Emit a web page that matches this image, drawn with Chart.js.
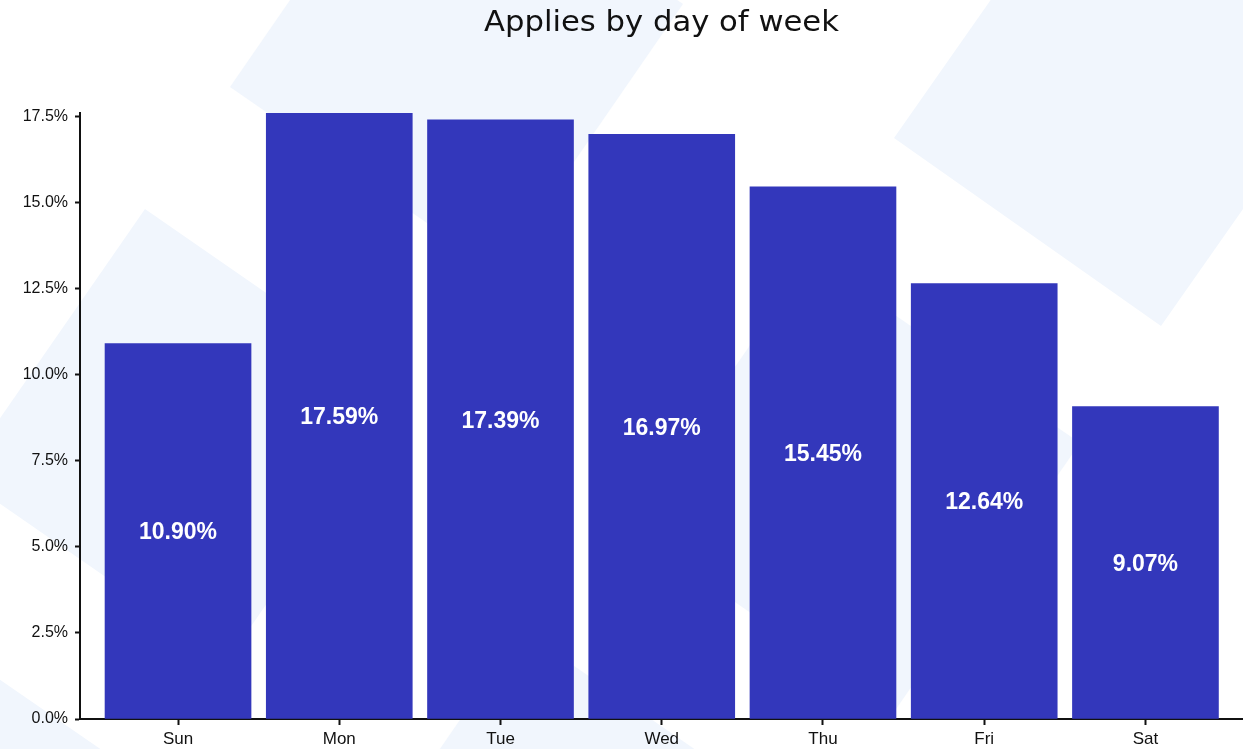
<!DOCTYPE html>
<html>
<head>
<meta charset="utf-8">
<script src="https://cdn.jsdelivr.net/npm/chart.js@4.4.0/dist/chart.umd.min.js"></script>
<style>
  html, body { margin: 0; padding: 0; background: #fff; }
  canvas { display: block; }
</style>
</head>
<body>
<canvas id="appliesChart" width="1243" height="749"></canvas>
<script>
// Share of applies per weekday (%)
const days = ['Sun', 'Mon', 'Tue', 'Wed', 'Thu', 'Fri', 'Sat'];
const shares = [10.90, 17.59, 17.39, 16.97, 15.45, 12.64, 9.07];
const yTicks = [0, 2.5, 5, 7.5, 10, 12.5, 15, 17.5];

const BAR_COLOR = '#3337bb';
const INK = '#111111';
const SHAPE_COLOR = '#f1f6fd';

// Decorative tilted squares behind the plot
const bgShapes = [
    [[230, 87], [498, 272], [683, 4], [415, -181]],
    [[894, 138], [1161, 326], [1348, 59], [1081, -129]],
    [[145, 209], [412, 394], [227, 661], [-40, 476]],
    [[811, 257], [1080, 443], [894, 712], [625, 526]],
    [[522, 630], [790, 815], [605, 1083], [337, 898]],
    [[-30, 659], [238, 844], [53, 1112], [-215, 927]]
];

const backdrop = {
    id: 'backdrop',
    beforeDraw(chart) {
        const ctx = chart.ctx;
        ctx.save();
        ctx.fillStyle = '#ffffff';
        ctx.fillRect(0, 0, chart.width, chart.height);
        ctx.fillStyle = SHAPE_COLOR;
        bgShapes.forEach(pts => {
            ctx.beginPath();
            pts.forEach(([x, y], i) => i ? ctx.lineTo(x, y) : ctx.moveTo(x, y));
            ctx.closePath();
            ctx.fill();
        });
        ctx.restore();
    }
};

// Title drawn a little stretched to get the wide look
const wideTitle = {
    id: 'wideTitle',
    afterDraw(chart) {
        const ctx = chart.ctx;
        const text = 'Applies by day of week';
        ctx.save();
        ctx.font = '29px "DejaVu Sans"';
        ctx.fillStyle = INK;
        ctx.textAlign = 'center';
        ctx.textBaseline = 'alphabetic';
        const w = ctx.measureText(text).width;
        const cx = (chart.chartArea.left + chart.chartArea.right) / 2;
        ctx.translate(cx, 31);
        ctx.scale(355 / w, 1);
        ctx.fillText(text, 0, 0);
        ctx.restore();
    }
};

// Percentage written in the middle of each bar
const barValues = {
    id: 'barValues',
    afterDatasetsDraw(chart) {
        const ctx = chart.ctx;
        const meta = chart.getDatasetMeta(0);
        ctx.save();
        ctx.font = 'bold 23px "Liberation Sans"';
        ctx.fillStyle = '#ffffff';
        ctx.textAlign = 'center';
        ctx.textBaseline = 'middle';
        meta.data.forEach((bar, i) => {
            const y = (bar.y + bar.base) / 2 + 2;
            ctx.fillText(shares[i].toFixed(2) + '%', bar.x, y);
        });
        ctx.restore();
    }
};

new Chart(document.getElementById('appliesChart'), {
    type: 'bar',
    data: {
        datasets: [{
            data: shares.map((v, i) => ({ x: i, y: v })),
            backgroundColor: BAR_COLOR,
            borderWidth: 0,
            barThickness: 146
        }]
    },
    options: {
        responsive: false,
        animation: false,
        layout: { padding: { top: 113, right: 0, left: 0, bottom: 0 } },
        plugins: {
            legend: { display: false },
            tooltip: { enabled: false }
        },
        scales: {
            x: {
                type: 'linear',
                min: -0.608,
                max: days.length - 1 + 0.605,
                offset: false,
                afterBuildTicks: axis => {
                    axis.ticks = days.map((d, i) => ({ value: i }));
                },
                afterFit: axis => { axis.height = 30; },
                grid: {
                    offset: false,
                    drawOnChartArea: false,
                    drawTicks: true,
                    tickLength: 6,
                    tickColor: INK,
                    tickWidth: 2
                },
                border: { color: INK, width: 2 },
                ticks: {
                    padding: 4,
                    color: INK,
                    font: { family: '"Liberation Sans", Arial, sans-serif', size: 17 },
                    callback: v => days[Math.round(v)]
                }
            },
            y: {
                min: 0,
                max: Math.max(...shares),
                afterBuildTicks: axis => {
                    axis.ticks = yTicks.map(v => ({ value: v }));
                },
                afterFit: axis => { axis.width = 80; },
                grid: {
                    drawOnChartArea: false,
                    drawTicks: true,
                    tickLength: 5,
                    tickColor: INK,
                    tickWidth: 2
                },
                border: { color: INK, width: 2 },
                ticks: {
                    padding: 7,
                    color: INK,
                    font: { family: '"Liberation Sans", Arial, sans-serif', size: 16 },
                    callback: v => v.toFixed(1) + '%'
                }
            }
        }
    },
    plugins: [backdrop, wideTitle, barValues]
});
</script>
</body>
</html>
